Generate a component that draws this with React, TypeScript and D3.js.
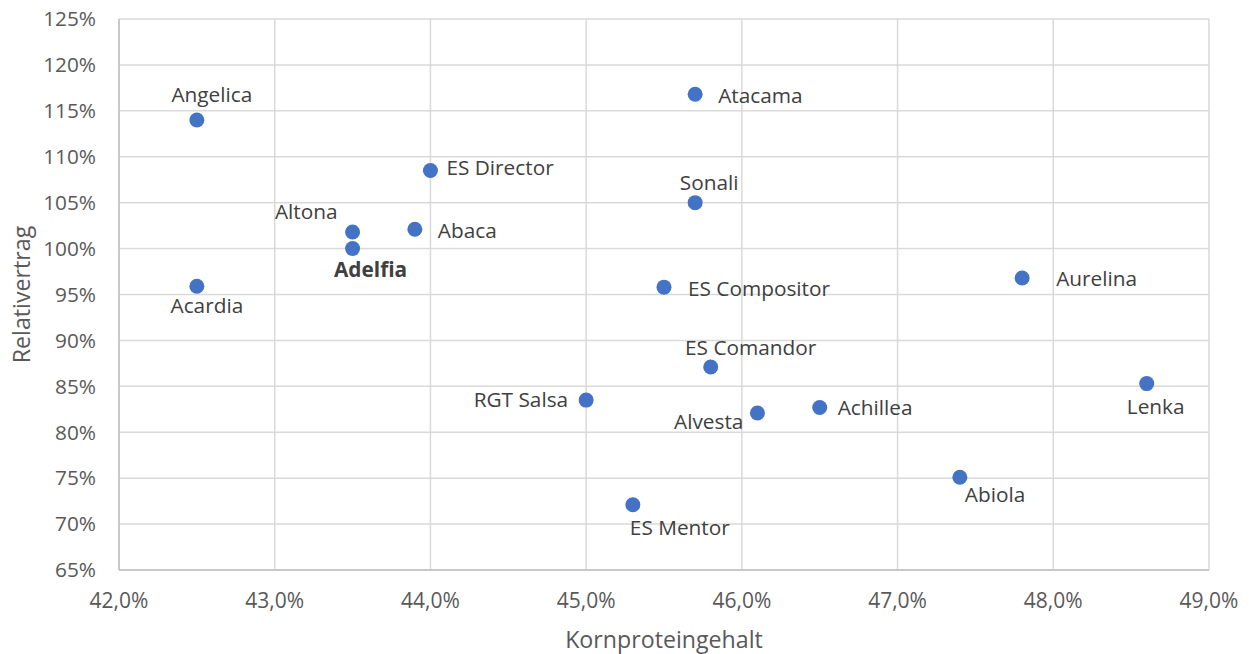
import React from "react";
import * as d3 from "d3";

const names = ["Angelica", "Acardia", "Altona", "Adelfia", "Abaca", "ES Director", "Atacama", "Sonali", "ES Compositor", "ES Comandor", "RGT Salsa", "Alvesta", "Achillea", "ES Mentor", "Abiola", "Aurelina", "Lenka"];
const protein = [42.5, 42.5, 43.5, 43.5, 43.9, 44.0, 45.7, 45.7, 45.5, 45.8, 45.0, 46.1, 46.5, 45.3, 47.4, 47.8, 48.6];
const yieldRel = [114.0, 95.9, 101.8, 100.0, 102.1, 108.5, 116.8, 105.0, 95.8, 87.1, 83.5, 82.1, 82.7, 72.1, 75.1, 96.8, 85.3];
const labelPos = ["above", "below", "left", "below", "right", "right", "right", "above", "right", "above", "left", "left", "right", "below", "below", "right", "below"];
const boldNames = ["Adelfia"];

const xTicks = [42, 43, 44, 45, 46, 47, 48, 49];
const yTicks = [65, 70, 75, 80, 85, 90, 95, 100, 105, 110, 115, 120, 125];

const W = 1249, H = 654;
const M = { left: 119, right: 1209, top: 19, bottom: 570 };
const FONT = "'Open Sans', 'Noto Sans', sans-serif";

// label offsets (layout), per placement & fine tuning
const labelOffset: Record<string, [number, number, string]> = {
  "Angelica": [15, -18, "middle"],
  "Acardia": [10, 27, "middle"],
  "Altona": [-15, -13, "end"],
  "Adelfia": [18, 28, "middle"],
  "Abaca": [23, 9, "start"],
  "ES Director": [16, 4, "start"],
  "Atacama": [23, 9, "start"],
  "Sonali": [14, -13, "middle"],
  "ES Compositor": [24, 9, "start"],
  "ES Comandor": [40, -12, "middle"],
  "RGT Salsa": [-18, 7, "end"],
  "Alvesta": [-14, 16, "end"],
  "Achillea": [18, 8, "start"],
  "ES Mentor": [-3, 30, "start"],
  "Abiola": [5, 25, "start"],
  "Aurelina": [34, 8, "start"],
  "Lenka": [9, 30, "middle"],
};

export default function App() {
  const x = d3.scaleLinear().domain([42, 49]).range([M.left, M.right]);
  const y = d3.scaleLinear().domain([65, 125]).range([M.bottom, M.top]);
  const fmtX = (v: number) => v.toFixed(1).replace(".", ",") + "%";
  const fmtY = (v: number) => v + "%";

  return (
    <div style={{ position: "absolute", left: 0, top: 0 }}>
      <svg width={W} height={H} style={{ display: "block", background: "#fff" }}>
        <rect x={0} y={0} width={W} height={H} fill="#fff" />
        {/* gridlines */}
        {yTicks.map((t) => (
          <line key={"gy" + t} x1={M.left} x2={M.right} y1={y(t)} y2={y(t)} stroke="#d9d9d9" strokeWidth={1.5} />
        ))}
        {xTicks.map((t) => (
          <line key={"gx" + t} x1={x(t)} x2={x(t)} y1={M.top} y2={M.bottom} stroke="#d9d9d9" strokeWidth={1.5} />
        ))}
        {/* axis lines */}
        <line x1={M.left} x2={M.left} y1={M.top} y2={M.bottom} stroke="#bfbfbf" strokeWidth={1.5} />
        <line x1={M.left} x2={M.right} y1={M.bottom} y2={M.bottom} stroke="#bfbfbf" strokeWidth={1.5} />
        {/* tick labels */}
        {yTicks.map((t) => (
          <text key={"ty" + t} x={96} y={y(t)} dy="0.35em" textAnchor="end" fontFamily={FONT} fontSize={20.8} fill="#595959">
            {fmtY(t)}
          </text>
        ))}
        {xTicks.map((t) => (
          <text key={"tx" + t} x={x(t)} y={608} textAnchor="middle" fontFamily={FONT} fontSize={21} fill="#595959">
            {fmtX(t)}
          </text>
        ))}
        {/* axis titles */}
        <text x={(M.left + M.right) / 2} y={648} textAnchor="middle" fontFamily={FONT} fontSize={23.2} fill="#595959">
          Kornproteingehalt
        </text>
        <text transform={`translate(30, ${(M.top + M.bottom) / 2}) rotate(-90)`} textAnchor="middle" fontFamily={FONT} fontSize={23.2} fill="#595959">
          Relativertrag
        </text>
        {/* points */}
        {names.map((n, i) => (
          <circle key={"p" + n} cx={x(protein[i])} cy={y(yieldRel[i])} r={7.5} fill="#4472C4" />
        ))}
        {/* labels */}
        {names.map((n, i) => {
          const o = labelOffset[n];
          return (
            <text
              key={"l" + n}
              data-pos={labelPos[i]}
              x={x(protein[i]) + o[0]}
              y={y(yieldRel[i]) + o[1]}
              textAnchor={o[2]}
              fontFamily={FONT}
              fontSize={20.8}
              fontWeight={boldNames.includes(n) ? "bold" : "normal"}
              fill="#404040"
            >
              {n}
            </text>
          );
        })}
      </svg>
    </div>
  );
}
